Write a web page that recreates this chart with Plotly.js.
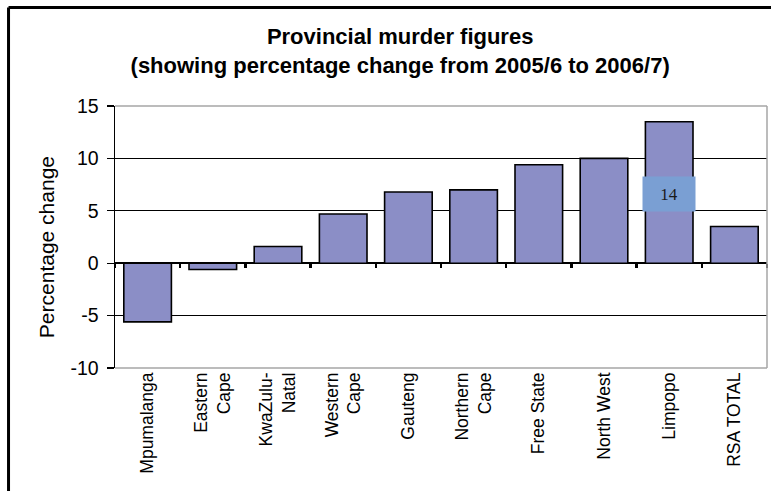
<!DOCTYPE html>
<html>
<head>
<meta charset="utf-8">
<script src="https://cdn.plot.ly/plotly-3.0.1.min.js"></script>
<style>
  html, body { margin: 0; padding: 0; background: #ffffff; }
  #chart { width: 771px; height: 491px; }
</style>
</head>
<body>
<div id="chart"></div>
<script>
// ---- data ----
var categories = ["Mpumalanga", "Eastern Cape", "KwaZulu-Natal", "Western Cape", "Gauteng",
                  "Northern Cape", "Free State", "North West", "Limpopo", "RSA TOTAL"];
var tickLabels = ["Mpumalanga", "Eastern<br>Cape", "KwaZulu-<br>Natal", "Western<br>Cape", "Gauteng",
                  "Northern<br>Cape", "Free State", "North West", "Limpopo", "RSA TOTAL"];
var changes = [-5.6, -0.6, 1.6, 4.7, 6.8, 7.0, 9.4, 10.0, 13.5, 3.5];
var yTickVals = [-10, -5, 0, 5, 10, 15];
var yTickText = ["-10", "-5", "0", "5", "10", "15"];
var boundaryTicks = [-0.5, 0.5, 1.5, 2.5, 3.5, 4.5, 5.5, 6.5, 7.5, 8.5, 9.5];
var labelBoxText = "14";
var labelBoxCategory = "Limpopo";
var labelBoxY = 6.6;

var positions = categories.map(function (c, i) { return i; });

var font = "Arial, 'Liberation Sans', Helvetica, sans-serif";

var bars = {
  type: "bar",
  x: categories,
  y: changes,
  marker: { color: "#8b8ec6", line: { color: "#000000", width: 1.6 } },
  hoverinfo: "x+y",
  showlegend: false
};

// invisible helper trace so the boundary-tick axis on the zero line is drawn
var tickHelper = {
  type: "scatter",
  mode: "markers",
  x: positions,
  y: changes,
  xaxis: "x2",
  marker: { opacity: 0 },
  hoverinfo: "skip",
  showlegend: false
};

var layout = {
  width: 771,
  height: 491,
  margin: { l: 115, r: 4, t: 106, b: 123 },
  paper_bgcolor: "#ffffff",
  plot_bgcolor: "#ffffff",
  bargap: 0.27,
  font: { family: font, color: "#000000" },
  title: {
    text: "<b>Provincial murder figures<br>(showing percentage change from 2005/6 to 2006/7)</b>",
    font: { family: font, size: 22, color: "#000000" },
    xref: "container", x: 0.519, xanchor: "center",
    yref: "container", y: 0.91, yanchor: "top"
  },
  xaxis: {
    type: "category",
    categoryorder: "array",
    categoryarray: categories,
    tickmode: "array",
    tickvals: categories,
    ticktext: tickLabels,
    tickangle: -90,
    tickfont: { family: font, size: 17.5, color: "#000000" },
    ticks: "",
    showgrid: false,
    showline: false,
    zeroline: false,
    range: [-0.5, 9.5],
    fixedrange: true
  },
  xaxis2: {
    overlaying: "x",
    anchor: "free",
    position: 0.4,
    range: [-0.5, 9.5],
    tickmode: "array",
    tickvals: boundaryTicks,
    ticks: "outside",
    ticklen: 4,
    tickwidth: 2.5,
    tickcolor: "#000000",
    showticklabels: false,
    showgrid: false,
    showline: false,
    zeroline: false,
    fixedrange: true
  },
  yaxis: {
    range: [-10, 15],
    tickmode: "array",
    tickvals: yTickVals,
    ticktext: yTickText,
    ticks: "outside",
    ticklen: 7,
    tickwidth: 1.2,
    tickcolor: "#000000",
    tickfont: { family: font, size: 19.5, color: "#000000" },
    ticklabelstandoff: 4,
    showline: true,
    linecolor: "#000000",
    linewidth: 1.5,
    showgrid: true,
    gridcolor: "#000000",
    gridwidth: 1,
    zeroline: true,
    zerolinecolor: "#000000",
    zerolinewidth: 2.5,
    fixedrange: true
  },
  shapes: [
    // plot-area border (top, right, bottom) in grey
    { type: "line", xref: "paper", yref: "paper", x0: 0, x1: 1, y0: 1, y1: 1,
      line: { color: "#a6a6a6", width: 1.5 }, layer: "above" },
    { type: "line", xref: "paper", yref: "paper", x0: 1, x1: 1, y0: 0, y1: 1,
      line: { color: "#a6a6a6", width: 1.5 }, layer: "above" },
    { type: "line", xref: "paper", yref: "paper", x0: 0, x1: 1, y0: 0, y1: 0,
      line: { color: "#a6a6a6", width: 1.5 }, layer: "above" },
    // outer black frame (top and left)
    { type: "line", xref: "paper", yref: "paper", x0: -0.1633, x1: 1.02, y0: 1.376, y1: 1.376,
      line: { color: "#000000", width: 3 }, layer: "above" },
    { type: "line", xref: "paper", yref: "paper", x0: -0.1633, x1: -0.1633, y0: -0.5, y1: 1.376,
      line: { color: "#000000", width: 3 }, layer: "above" }
  ],
  annotations: [
    {
      text: "Percentage change",
      textangle: -90,
      xref: "paper", yref: "paper",
      x: -0.104, y: 0.462,
      xanchor: "center", yanchor: "middle",
      showarrow: false,
      font: { family: font, size: 21, color: "#000000" }
    },
    {
      text: labelBoxText,
      xref: "x", yref: "y",
      x: labelBoxCategory, y: labelBoxY,
      xanchor: "center", yanchor: "middle",
      showarrow: false,
      width: 52, height: 34,
      borderpad: 0,
      bgcolor: "#7a9fd3",
      font: { family: "'Liberation Serif', 'Times New Roman', serif", size: 17, color: "#1a1a1a" }
    }
  ]
};

Plotly.newPlot("chart", [bars, tickHelper], layout, { displayModeBar: false, staticPlot: true });
</script>
</body>
</html>
